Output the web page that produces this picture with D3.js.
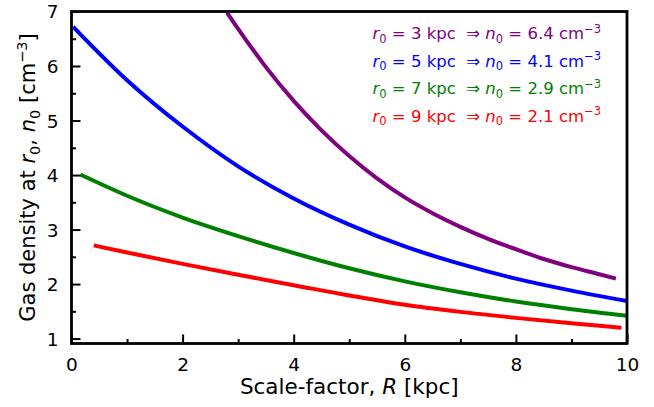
<!DOCTYPE html>
<html><head><meta charset="utf-8">
<script src="https://cdn.jsdelivr.net/npm/d3@7"></script>
<style>body{margin:0;background:#fff}svg{display:block;font-family:"DejaVu Sans",sans-serif}text{white-space:pre}</style>
</head><body><svg id="c" width="654" height="407"></svg>
<script>
const xTicks = [0,2,4,6,8,10];
const yTicks = [1,2,3,4,5,6,7];
const xMinor = [1,3,5,7,9];
const yMinor = [1.5,2.5,3.5,4.5,5.5,6.5];
const r0Values = [3,5,7,9];
const n0Values = ["6.4","4.1","2.9","2.1"];
const seriesColors = ["#800080","#0000ff","#008000","#ff0000"];
const purpleX = [2.8,3.0,3.5,4.0,4.5,5.0,5.5,6.0,6.5,7.0,7.5,8.0,8.5,9.0,9.5,9.8];
const purpleY = [6.98,6.68,5.98,5.36,4.82,4.35,3.94,3.59,3.30,3.05,2.83,2.64,2.46,2.31,2.18,2.10];
const blueX = [0.03,1,2,3,4,5,6,7,8,9,10];
const blueY = [6.72,5.74,4.89,4.16,3.57,3.09,2.69,2.37,2.10,1.88,1.69];
const greenX = [0.16,1,2,3,4,5,6,7,8,9,10];
const greenY = [4.01,3.62,3.22,2.88,2.57,2.29,2.05,1.85,1.68,1.54,1.42];
const redX = [0.4,1,2,3,4,5,6,7,8,9,9.9];
const redY = [2.71,2.58,2.37,2.17,1.98,1.79,1.62,1.49,1.38,1.28,1.20];

const series = [[purpleX,purpleY],[blueX,blueY],[greenX,greenY],[redX,redY]];
const svg = d3.select("#c");
const L=71.5, R=627, T=11.5, B=343.5;
const x = d3.scaleLinear().domain([0,10]).range([L,R]);
const y = d3.scaleLinear().domain([0.91,7]).range([B,T]);

svg.append("clipPath").attr("id","cp").append("rect")
  .attr("x",L).attr("y",T).attr("width",R-L).attr("height",B-T);

const line = d3.line().x(d=>x(d[0])).y(d=>y(d[1])).curve(d3.curveMonotoneX);
const g = svg.append("g").attr("clip-path","url(#cp)");
series.forEach((s,i)=>{
  g.append("path").datum(s[0].map((v,j)=>[v,s[1][j]]))
   .attr("d",line).attr("fill","none").attr("stroke",seriesColors[i])
   .attr("stroke-width",4).attr("stroke-linecap","butt");
});

// axes
const xAxis = svg.append("g").attr("transform",`translate(0,${B})`)
  .call(d3.axisBottom(x).tickValues(xTicks).tickSize(-9).tickPadding(14).tickFormat(d3.format("d")));
const xAxisMinor = svg.append("g").attr("transform",`translate(0,${B})`)
  .call(d3.axisBottom(x).tickValues(xMinor).tickSize(-4.5).tickFormat(""));
const yAxis = svg.append("g").attr("transform",`translate(${L},0)`)
  .call(d3.axisLeft(y).tickValues(yTicks).tickSize(-9).tickPadding(13).tickFormat(d3.format("d")));
const yAxisMinor = svg.append("g").attr("transform",`translate(${L},0)`)
  .call(d3.axisLeft(y).tickValues(yMinor).tickSize(-4.5).tickFormat(""));
[xAxis,xAxisMinor,yAxis,yAxisMinor].forEach(a=>{
  a.select(".domain").remove();
  a.selectAll("line").attr("stroke","#000").attr("stroke-width",2);
  a.selectAll("text").attr("font-size",18.5).attr("fill","#000").attr("font-family","DejaVu Sans");
});
xAxis.selectAll("text").attr("dy","0.71em");
yAxis.selectAll("text").attr("dy","0.35em");

svg.append("rect").attr("x",L).attr("y",T).attr("width",R-L).attr("height",B-T)
  .attr("fill","none").attr("stroke","#000").attr("stroke-width",2.8);

// axis labels
const xl = svg.append("text").attr("x",(L+R)/2).attr("y",394).attr("text-anchor","middle")
  .attr("font-size",21.5);
xl.append("tspan").text("Scale-factor, ");
xl.append("tspan").attr("font-style","italic").text("R");
xl.append("tspan").text(" [kpc]");

const yl = svg.append("text").attr("transform",`translate(35,${(T+B)/2}) rotate(-90)`)
  .attr("text-anchor","middle").attr("font-size",21);
yl.append("tspan").text("Gas density at ");
yl.append("tspan").attr("font-style","italic").text("r");
yl.append("tspan").attr("font-size",14.5).attr("dy",4.5).text("0");
yl.append("tspan").attr("dy",-4.5).text(", ");
yl.append("tspan").attr("font-style","italic").text("n");
yl.append("tspan").attr("font-size",14.5).attr("dy",4.5).text("0");
yl.append("tspan").attr("dy",-4.5).text(" [cm");
yl.append("tspan").attr("font-size",14.5).attr("dy",-8).text("\u22123");
yl.append("tspan").attr("dy",8).text("]");

// annotations
r0Values.forEach((r,i)=>{
  const t = svg.append("text").attr("x",601).attr("y",39+i*27.6)
    .attr("text-anchor","end").attr("font-size",16.5).attr("fill",seriesColors[i]);
  t.append("tspan").attr("font-style","italic").text("r");
  t.append("tspan").attr("font-size",11.5).attr("dy",3.5).text("0");
  t.append("tspan").attr("dy",-3.5).text(` = ${r} kpc  \u21D2 `);
  t.append("tspan").attr("font-style","italic").text("n");
  t.append("tspan").attr("font-size",11.5).attr("dy",3.5).text("0");
  t.append("tspan").attr("dy",-3.5).text(` = ${n0Values[i]} cm`);
  t.append("tspan").attr("font-size",11.5).attr("dy",-6.5).text("\u22123");
});
</script></body></html>
